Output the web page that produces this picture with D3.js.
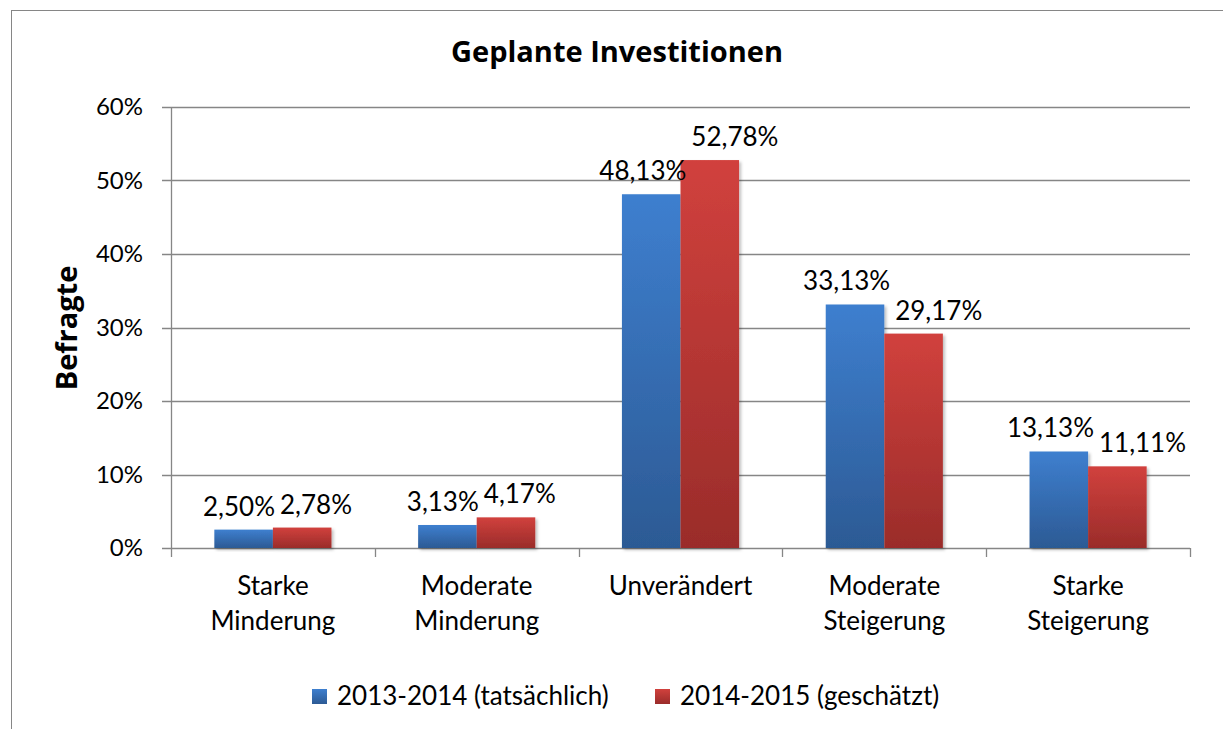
<!DOCTYPE html>
<html lang="de">
<head>
<meta charset="utf-8">
<script src="https://d3js.org/d3.v7.min.js"></script>
<style>
  html, body { margin: 0; padding: 0; background: #fff; }
  svg text { font-family: Lato, "Open Sans", sans-serif; fill: #000; }
  svg text.gras { font-family: "Open Sans", Lato, sans-serif; font-weight: bold; }
</style>
</head>
<body>
<div id="chart"></div>
<script>
    // Daten
    const kategorien = [
        ["Starke", "Minderung"],
        ["Moderate", "Minderung"],
        ["Unverändert"],
        ["Moderate", "Steigerung"],
        ["Starke", "Steigerung"]
    ];
    const serien = ["2013-2014 (tatsächlich)", "2014-2015 (geschätzt)"];
    const werte2013 = [2.50, 3.13, 48.13, 33.13, 13.13];
    const werte2014 = [2.78, 4.17, 52.78, 29.17, 11.11];
    const yTicks = [0, 10, 20, 30, 40, 50, 60];

    const couleurs = [["#3e7fcf", "#2c5a94"], ["#d1413d", "#9a2c2a"]];
    const grau = "#868686";

    const largeur = 1223, hauteur = 729;
    const marge = { haut: 107, droite: 33, bas: 181, gauche: 171 };
    const w = largeur - marge.gauche - marge.droite;
    const h = hauteur - marge.haut - marge.bas;

    const svg = d3.select("#chart").append("svg")
        .attr("width", largeur)
        .attr("height", hauteur);

    const defs = svg.append("defs");
    couleurs.forEach((c, i) => {
        const g = defs.append("linearGradient")
            .attr("id", "grad" + i)
            .attr("x1", 0).attr("y1", 0).attr("x2", 0).attr("y2", 1);
        g.append("stop").attr("offset", "0%").attr("stop-color", c[0]);
        g.append("stop").attr("offset", "100%").attr("stop-color", c[1]);
    });
    defs.append("filter").attr("id", "ombre")
        .attr("x", "-10%").attr("y", "-10%").attr("width", "130%").attr("height", "130%")
        .append("feDropShadow")
        .attr("dx", 2).attr("dy", 2).attr("stdDeviation", 1.5)
        .attr("flood-color", "#000").attr("flood-opacity", 0.25);

    // cadre
    svg.append("rect")
        .attr("x", 11.5).attr("y", 10.5)
        .attr("width", 1300).attr("height", 800)
        .attr("fill", "none")
        .attr("stroke", grau);

    // titre
    svg.append("text")
        .attr("class", "gras")
        .attr("x", 617).attr("y", 62)
        .attr("text-anchor", "middle")
        .style("font-size", "29px")
        .text("Geplante Investitionen");

    svg.append("text")
        .attr("class", "gras")
        .attr("transform", "translate(77,328) rotate(-90)")
        .attr("text-anchor", "middle")
        .style("font-size", "29px")
        .text("Befragte");

    const g = svg.append("g").attr("transform", `translate(${marge.gauche},${marge.haut})`);

    const x = d3.scaleBand()
        .domain(d3.range(kategorien.length))
        .range([0, w]);
    const x1 = d3.scaleBand()
        .domain([0, 1])
        .range([0, x.bandwidth()])
        .paddingInner(0)
        .paddingOuter(0.74);
    const y = d3.scaleLinear().domain([0, 60]).range([h, 0]);

    // grille
    g.append("g").selectAll("line")
        .data(yTicks)
        .join("line")
        .attr("x1", -9).attr("x2", w)
        .attr("y1", d => Math.round(y(d)) + 0.5)
        .attr("y2", d => Math.round(y(d)) + 0.5)
        .attr("stroke", grau)
        .attr("stroke-width", 1.3);

    g.append("g").selectAll("text")
        .data(yTicks)
        .join("text")
        .attr("x", -28)
        .attr("y", d => y(d) + 8)
        .attr("text-anchor", "end")
        .style("font-size", "24px")
        .text(d => d + "%");

    // axes
    g.append("line")
        .attr("x1", 0.5).attr("x2", 0.5)
        .attr("y1", 0).attr("y2", h)
        .attr("stroke", grau).attr("stroke-width", 1.3);

    g.append("g").selectAll("line")
        .data(d3.range(kategorien.length + 1))
        .join("line")
        .attr("x1", i => Math.round(i * x.step()) + 0.5)
        .attr("x2", i => Math.round(i * x.step()) + 0.5)
        .attr("y1", h).attr("y2", h + 9)
        .attr("stroke", grau).attr("stroke-width", 1.3);

    // barres
    const donnees = [];
    kategorien.forEach((k, i) => {
        [werte2013[i], werte2014[i]].forEach((v, s) => donnees.push({ i, s, v }));
    });

    g.append("g").selectAll("rect")
        .data(donnees)
        .join("rect")
        .attr("x", d => x(d.i) + x1(d.s))
        .attr("y", d => y(d.v))
        .attr("width", x1.bandwidth())
        .attr("height", d => h - y(d.v))
        .attr("fill", d => `url(#grad${d.s})`)
        .attr("filter", "url(#ombre)");

    // étiquettes des valeurs
    const etiquettes = g.append("g").selectAll("text")
        .data(donnees)
        .join("text")
        .attr("x", d => x(d.i) + x1(d.s) + x1.bandwidth() / 2)
        .attr("y", d => y(d.v) - 14)
        .attr("text-anchor", "middle")
        .style("font-size", "26px")
        .text(d => d.v.toFixed(2).replace(".", ",") + "%");

    // éviter le chevauchement
    const noeuds = etiquettes.nodes();
    for (let i = 0; i < noeuds.length; i += 2) {
        const a = noeuds[i], b = noeuds[i + 1];
        const la = a.getComputedTextLength(), lb = b.getComputedTextLength();
        const xa = +a.getAttribute("x"), xb = +b.getAttribute("x");
        const chevauche = (xa + la / 2 + 5) - (xb - lb / 2);
        if (chevauche > 0) {
            a.setAttribute("x", xa - chevauche / 4);
            b.setAttribute("x", xb + chevauche * 3 / 4);
        }
    }

    // catégories
    g.append("g").selectAll("text")
        .data(kategorien)
        .join("text")
        .attr("transform", (d, i) => `translate(${x(i) + x.bandwidth() / 2},${h + 47})`)
        .attr("text-anchor", "middle")
        .style("font-size", "26px")
        .selectAll("tspan")
        .data(d => d)
        .join("tspan")
        .attr("x", 0)
        .attr("dy", (d, j) => j === 0 ? 0 : 35)
        .text(d => d);

    // légende
    const legende = svg.append("g").attr("transform", "translate(312,689)");
    const posLegende = [0, 343];
    serien.forEach((s, i) => {
        const item = legende.append("g").attr("transform", `translate(${posLegende[i]},0)`);
        item.append("rect")
            .attr("width", 15).attr("height", 15)
            .attr("fill", `url(#grad${i})`);
        item.append("text")
            .attr("x", 25).attr("y", 16)
            .style("font-size", "26px")
            .text(s);
    });
</script>
</body>
</html>
